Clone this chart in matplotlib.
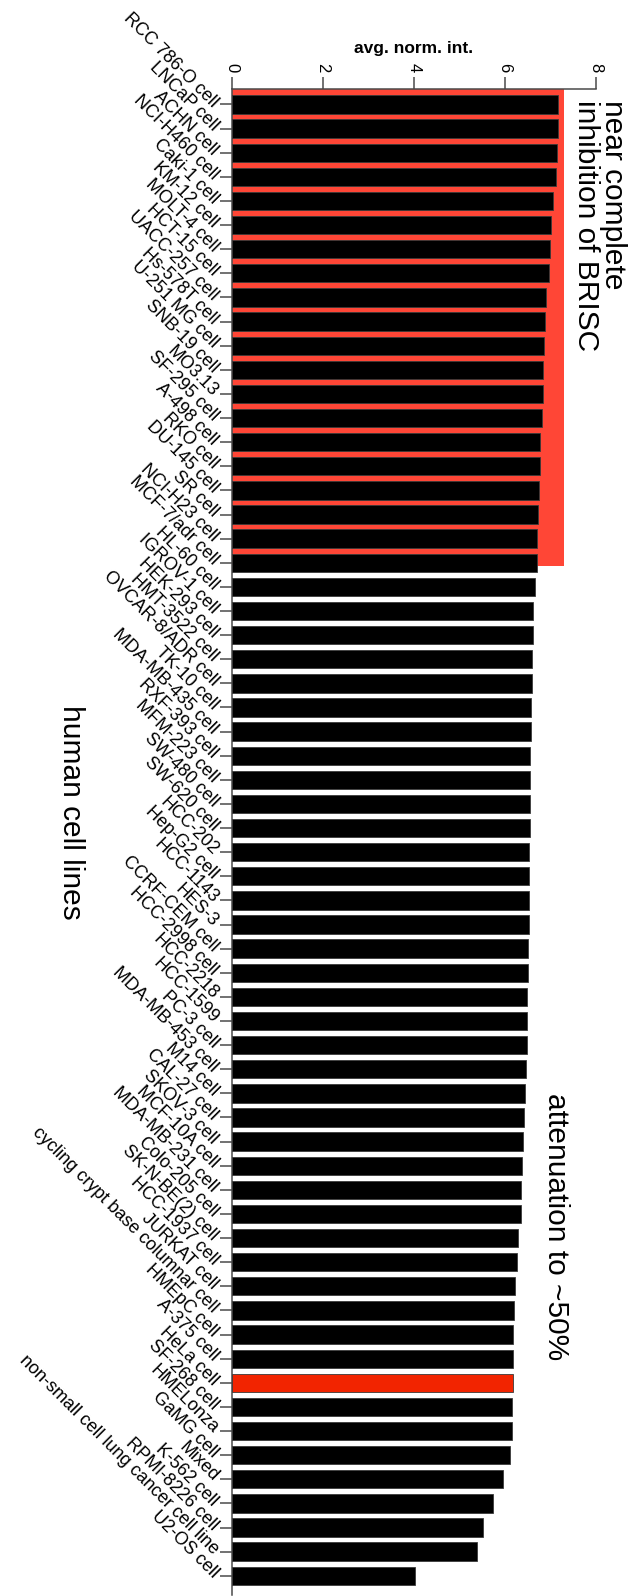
import numpy as np
import matplotlib.pyplot as plt
from matplotlib.patches import Rectangle

plt.rcParams["font.family"] = ["Liberation Sans", "DejaVu Sans"]

cell_lines = [
    "RCC 786-O cell", "LNCaP cell", "ACHN cell", "NCI-H460 cell", "Caki-1 cell",
    "KM-12 cell", "MOLT-4 cell", "HCT-15 cell", "UACC-257 cell", "Hs-578T cell",
    "U-251 MG cell", "SNB-19 cell", "MO3.13", "SF-295 cell", "A-498 cell",
    "RKO cell", "DU-145 cell", "SR cell", "NCI-H23 cell", "MCF-7/adr cell",
    "HL-60 cell", "IGROV-1 cell", "HEK-293 cell", "HMT-3522 cell", "OVCAR-8/ADR cell",
    "TK-10 cell", "MDA-MB-435 cell", "RXF-393 cell", "MFM-223 cell", "SW-480 cell",
    "SW-620 cell", "HCC-202", "Hep-G2 cell", "HCC-1143", "HES-3",
    "CCRF-CEM cell", "HCC-2998 cell", "HCC-2218", "HCC-1599", "PC-3 cell",
    "MDA-MB-453 cell", "M14 cell", "CAL-27 cell", "SKOV-3 cell", "MCF-10A cell",
    "MDA-MB-231 cell", "Colo-205 cell", "SK-N-BE(2) cell", "HCC-1937 cell", "JURKAT cell",
    "cycling crypt base columnar cell", "HMEpC cell", "A-375 cell", "HeLa cell", "SF-268 cell",
    "HMELonza", "GaMG cell", "Mixed", "K-562 cell", "RPMI-8226 cell",
    "non-small cell lung cancer cell line", "U2-OS cell",
]

avg_norm_int = [
    7.17, 7.16, 7.14, 7.11, 7.06,
    7.02, 6.99, 6.97, 6.91, 6.89,
    6.86, 6.84, 6.83, 6.82, 6.78,
    6.77, 6.74, 6.72, 6.71, 6.70,
    6.66, 6.62, 6.61, 6.60, 6.59,
    6.58, 6.57, 6.56, 6.56, 6.55,
    6.54, 6.53, 6.53, 6.52, 6.52,
    6.51, 6.50, 6.49, 6.49, 6.48,
    6.46, 6.43, 6.41, 6.39, 6.37,
    6.36, 6.35, 6.28, 6.26, 6.22,
    6.19, 6.18, 6.18, 6.17, 6.16,
    6.16, 6.11, 5.95, 5.74, 5.52,
    5.39, 4.03,
]

n_inhibited = 20           # leading bars drawn on the red band
highlighted = "HeLa cell"  # single bar shown in red

AXIS_COLOR = "#4a4a4a"
BAND_COLOR = "#ff4636"
HIGHLIGHT_COLOR = "#f22400"

fig = plt.figure(figsize=(6.36, 15.96), dpi=100)
ax = fig.add_axes([0.3648, 0.0006, 0.5723, 0.9436])

y = np.arange(len(cell_lines))
colors = [HIGHLIGHT_COLOR if c == highlighted else "black" for c in cell_lines]
ax.barh(y, avg_norm_int, height=0.76, color=colors,
        edgecolor="#3a3a3a", linewidth=0.6, zorder=3)

# red band behind the strongly inhibited group
y_top = -0.64
band_bottom = n_inhibited - 1 + 0.13
ax.add_patch(Rectangle((0, y_top), 7.3, band_bottom - y_top,
                       facecolor=BAND_COLOR, edgecolor="none", zorder=1))

ax.set_xlim(0, 8)
ax.set_ylim(61.8, y_top)

ax.xaxis.tick_top()
ax.xaxis.set_label_position("top")
ax.set_xticks([0, 2, 4, 6, 8])
ax.set_xticklabels(["0", "2", "4", "6", "8"], rotation=-90, fontsize=12)
ax.set_xlabel("avg. norm. int.", fontsize=12.5, fontweight="bold", labelpad=7)

ax.set_yticks(y)
ax.set_yticklabels(cell_lines, rotation=-45, rotation_mode="anchor",
                   ha="right", va="center", fontsize=13)

for side in ["right", "bottom"]:
    ax.spines[side].set_visible(False)
for side in ["top", "left"]:
    ax.spines[side].set_color(AXIS_COLOR)
    ax.spines[side].set_linewidth(1.1)
ax.tick_params(axis="both", length=9, width=1.1, color=AXIS_COLOR, pad=3)

ax.text(7.47, -0.2, "near complete\ninhibition of BRISC", rotation=-90,
        ha="left", va="top", fontsize=21.5, linespacing=0.95)
ax.text(-3.54, 24.9, "human cell lines", rotation=-90,
        ha="center", va="top", fontsize=21.5)
ax.text(7.12, 41.0, "attenuation to ~50%", rotation=-90,
        ha="center", va="top", fontsize=21.5)

fig.savefig("out.png", dpi=100)
